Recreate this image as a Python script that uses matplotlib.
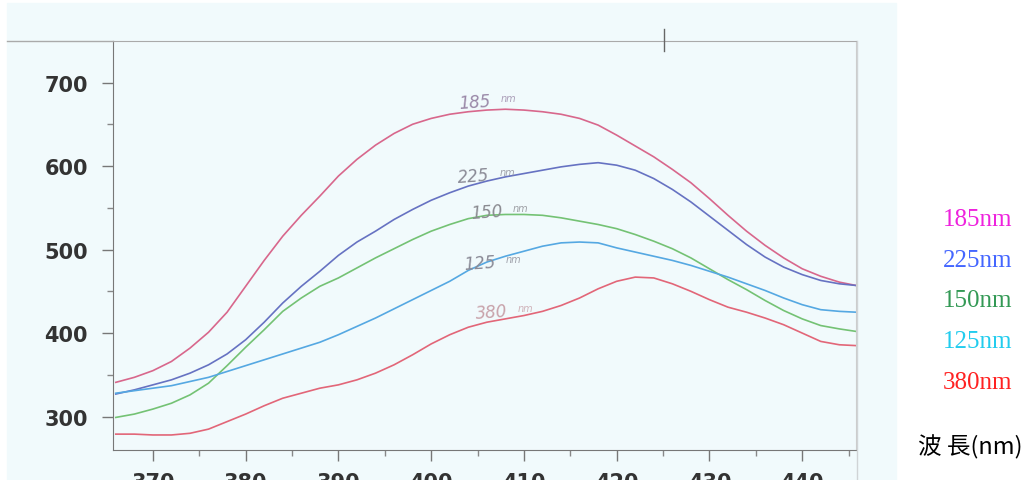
import matplotlib
matplotlib.use("Agg")
import matplotlib.pyplot as plt
from matplotlib.lines import Line2D
from matplotlib.patches import Rectangle

# wavelength readings (nm) shared by all curves
wavelength = [366, 368, 370, 372, 374, 376, 378, 380, 382, 384, 386, 388, 390,
              392, 394, 396, 398, 400, 402, 404, 406, 408, 410, 412, 414, 416,
              418, 420, 422, 424, 426, 428, 430, 432, 434, 436, 438, 440, 442,
              444, 445.8]

i_185 = [341, 347, 355, 366, 382, 401, 425, 456, 487, 516, 541, 564, 588,
         608, 625, 639, 650, 657, 662, 665, 667, 668, 667, 665, 662, 657,
         649, 637, 624, 611, 596, 580, 561, 541, 522, 505, 490, 477, 468,
         461, 457]
i_225 = [327, 332, 338, 344, 352, 362, 375, 392, 413, 436, 456, 474, 493,
         509, 522, 536, 548, 559, 568, 576, 582, 587, 591, 595, 599, 602,
         604, 601, 595, 585, 572, 557, 540, 523, 506, 491, 479, 470, 463,
         459, 457]
i_150 = [299, 303, 309, 316, 326, 340, 361, 383, 404, 426, 442, 456, 466,
         478, 490, 501, 512, 522, 530, 537, 541, 542, 542, 541, 538, 534,
         530, 525, 518, 510, 501, 490, 477, 464, 452, 439, 427, 417, 409,
         405, 402]
i_125 = [328, 331, 334, 337, 342, 347, 354, 361, 368, 375, 382, 389, 398,
         408, 418, 429, 440, 451, 462, 475, 485, 492, 498, 504, 508, 509,
         508, 502, 497, 492, 487, 481, 474, 467, 459, 451, 442, 434, 428,
         426, 425]
i_380 = [279, 279, 278, 278, 280, 285, 294, 303, 313, 322, 328, 334, 338,
         344, 352, 362, 374, 387, 398, 407, 413, 417, 421, 426, 433, 442,
         453, 462, 467, 466, 459, 450, 440, 431, 425, 418, 410, 400, 390,
         386, 385]

series = [i_185, i_225, i_150, i_125, i_380]
line_colors = ["#d8678c", "#6672c2", "#74c274", "#55a8e2", "#e26678"]

legend_names = ["185nm", "225nm", "150nm", "125nm", "380nm"]
legend_colors = ["#ee22dd", "#4466ff", "#339955", "#22ccee", "#ff2222"]

# pencil notes written on the scan: (number, x, y, colour)
notes = [("185", 404.7, 677, "#9a88a8"),
         ("225", 404.6, 588, "#8a8a96"),
         ("150", 406.0, 545, "#8a8a90"),
         ("125", 405.2, 484, "#8a8a96"),
         ("380", 406.5, 425, "#c8a2aa")]

W, H = 1027, 481
fig = plt.figure(figsize=(W / 100, H / 100), dpi=100)
fig.patch.set_facecolor("white")

# pale scanned paper
fig.patches.append(Rectangle((7 / W, 0), (896 - 7) / W, 1 - 4 / H,
                             transform=fig.transFigure, color="#f1fafc", zorder=-5))

ax = fig.add_axes([113 / W, 1 - 451 / H, (856 - 113) / W, (451 - 42) / H])
ax.set_facecolor("none")

for ys, c in zip(series, line_colors):
    ax.plot(wavelength, ys, color=c, lw=1.2)

for txt, x, y, c in notes:
    ax.text(x, y, txt, color=c, fontsize=12, ha="center", va="center",
            style="italic", rotation=4)
    ax.text(x + 2.8, y + 5, "nm", color=c, fontsize=7, ha="left", va="center",
            style="italic", alpha=0.8)

ax.set_xlim(365.7, 445.8)
ax.set_ylim(260, 749.7)
ax.set_xticks([370, 380, 390, 400, 410, 420, 430, 440])
ax.set_xticks([375, 385, 395, 405, 415, 425, 435, 445], minor=True)
ax.set_yticks([300, 400, 500, 600, 700])
ax.set_yticks([350, 450, 550, 650], minor=True)

for lab in ax.get_xticklabels() + ax.get_yticklabels():
    lab.set_fontweight("bold")
ax.tick_params(axis="both", which="major", labelsize=15, labelcolor="#333333",
               color="#777777", length=8, width=1)
ax.tick_params(axis="x", which="major", pad=8)
ax.tick_params(axis="y", which="major", pad=10)
ax.tick_params(axis="both", which="minor", color="#888888", length=4, width=1)

ax.spines["left"].set_color("#777777")
ax.spines["bottom"].set_color("#777777")
ax.spines["top"].set_color("#aaaaaa")
ax.spines["right"].set_color("#cccccc")

# scan frame lines outside the axes
fig.lines.append(Line2D([7 / W, 113 / W], [1 - 42 / H] * 2, transform=fig.transFigure,
                        color="#aaaaaa", lw=1))
fig.lines.append(Line2D([857 / W] * 2, [0, 1 - 42 / H], transform=fig.transFigure,
                        color="#d0d4d6", lw=1))
fig.lines.append(Line2D([664 / W] * 2, [1 - 30 / H, 1 - 52 / H], transform=fig.transFigure,
                        color="#666666", lw=1))

for k, (name, c) in enumerate(zip(legend_names, legend_colors)):
    fig.text(1012 / W, 1 - (220 + 40.7 * k) / H, name, color=c, fontsize=18,
             family="Liberation Serif", ha="right", va="center")

fig.text(1022 / W, 1 - 447 / H, "波 長(nm)", color="black", fontsize=17,
         family=["Noto Sans CJK TC", "DejaVu Sans"], ha="right", va="center")

fig.savefig("out.png", dpi=100)
